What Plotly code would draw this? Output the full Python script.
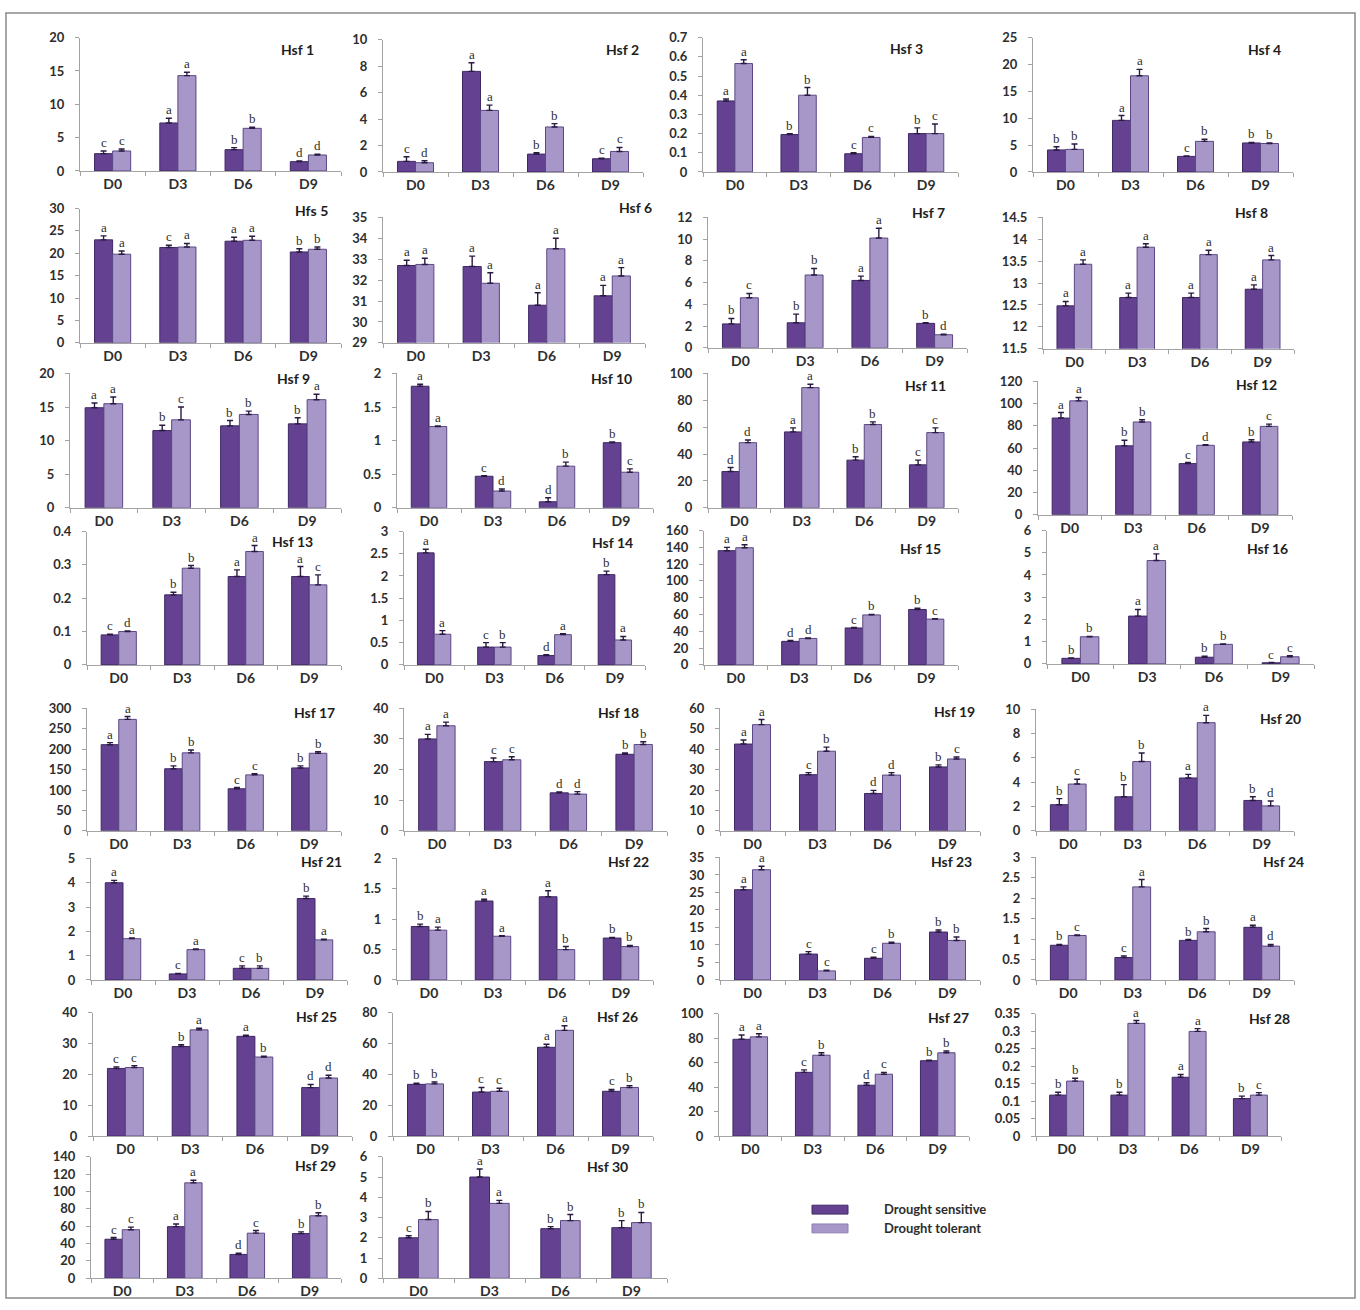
import plotly.graph_objects as go

W, H = 1360, 1310

# ---------------- data ----------------
DAYS = ["D0", "D3", "D6", "D9"]
GENES = ["Hsf 1", "Hsf 2", "Hsf 3", "Hsf 4", "Hfs 5", "Hsf 6", "Hsf 7", "Hsf 8",
         "Hsf 9", "Hsf 10", "Hsf 11", "Hsf 12", "Hsf 13", "Hsf 14", "Hsf 15", "Hsf 16",
         "Hsf 17", "Hsf 18", "Hsf 19", "Hsf 20", "Hsf 21", "Hsf 22", "Hsf 23", "Hsf 24",
         "Hsf 25", "Hsf 26", "Hsf 27", "Hsf 28", "Hsf 29", "Hsf 30"]

Y_MIN = [0, 0, 0, 0, 0, 29, 0, 11.5,
         0, 0, 0, 0, 0, 0, 0, 0,
         0, 0, 0, 0, 0, 0, 0, 0,
         0, 0, 0, 0, 0, 0]
Y_MAX = [20, 10, 0.7, 25, 30, 35, 12, 14.5,
         20, 2, 100, 120, 0.4, 3, 160, 6,
         300, 40, 60, 10, 5, 2, 35, 3,
         40, 80, 100, 0.35, 140, 6]
Y_STEP = [5, 2, 0.1, 5, 5, 1, 2, 0.5,
          5, 0.5, 20, 20, 0.1, 0.5, 20, 1,
          50, 10, 10, 2, 1, 0.5, 5, 0.5,
          10, 20, 20, 0.05, 20, 1]

SENS = [[2.6, 7.2, 3.2, 1.4], [0.8, 7.6, 1.35, 1.0], [0.37, 0.195, 0.095, 0.20], [4.1, 9.6, 2.9, 5.4],
        [23.0, 21.3, 22.7, 20.3], [32.7, 32.65, 30.8, 31.25], [2.2, 2.3, 6.2, 2.25], [12.48, 12.67, 12.67, 12.86],
        [14.9, 11.5, 12.2, 12.5], [1.81, 0.47, 0.09, 0.97], [27, 56.5, 35.5, 32], [87, 62, 46, 65.5],
        [0.09, 0.21, 0.265, 0.265], [2.52, 0.40, 0.21, 2.03], [136, 28, 44, 66], [0.25, 2.15, 0.3, 0.05],
        [211, 152, 103, 154], [30, 22.6, 12.4, 25], [42.5, 27.5, 18.3, 31.3], [2.15, 2.8, 4.35, 2.5],
        [4.0, 0.25, 0.48, 3.35], [0.88, 1.3, 1.37, 0.69], [25.8, 7.4, 6.2, 13.7], [0.85, 0.55, 0.97, 1.29],
        [21.9, 29, 32.3, 15.7], [33.5, 28.5, 57.5, 29], [79, 52, 41.5, 61.5], [0.117, 0.117, 0.168, 0.107],
        [45, 59.5, 27.5, 51.5], [2.0, 5.0, 2.45, 2.5]]
SENS_ERR = [[0.4, 0.7, 0.3, 0.1], [0.35, 0.65, 0.1, 0.05], [0.01, 0.005, 0.005, 0.03], [0.6, 0.9, 0.1, 0.1],
            [0.9, 0.5, 0.9, 0.7], [0.25, 0.5, 0.6, 0.5], [0.5, 0.8, 0.4, 0.05], [0.1, 0.1, 0.1, 0.1],
            [0.7, 0.8, 0.8, 0.9], [0.03, 0.01, 0.06, 0.01], [3, 3, 2.5, 3.5], [5, 5, 1, 2],
            [0.002, 0.008, 0.02, 0.03], [0.08, 0.1, 0.02, 0.08], [4, 1, 0.5, 1.5], [0.02, 0.3, 0.05, 0.01],
            [5, 7, 3, 5], [1.5, 1.2, 0.3, 0.4], [2, 1, 1.5, 1], [0.5, 1.0, 0.3, 0.3],
            [0.1, 0.02, 0.1, 0.1], [0.04, 0.03, 0.1, 0.01], [0.8, 0.7, 0.3, 0.6], [0.02, 0.04, 0.02, 0.05],
            [0.5, 0.6, 0.4, 1.0], [0.8, 3, 2, 1.2], [3.5, 2, 2, 0.5], [0.008, 0.008, 0.008, 0.007],
            [2, 3, 1.5, 2], [0.1, 0.4, 0.1, 0.35]]
SENS_LET = [list("cabd"), list("cabc"), list("abcb"), list("bacb"),
            list("acab"), list("aaaa"), list("bbab"), list("aaaa"),
            list("abbb"), list("acdb"), list("dabc"), list("abcb"),
            list("cbaa"), list("acdb"), list("adcb"), list("babc"),
            list("abcb"), list("acdb"), list("acdb"), list("bbab"),
            list("accb"), list("baab"), list("accb"), list("bcba"),
            list("cbad"), list("bcac"), list("acdb"), list("bbab"),
            list("cadb"), list("cabb")]

TOL = [[3.0, 14.3, 6.4, 2.4], [0.7, 4.65, 3.4, 1.55], [0.565, 0.40, 0.18, 0.20], [4.2, 17.9, 5.7, 5.3],
       [19.8, 21.4, 22.9, 20.9], [32.75, 31.85, 33.5, 32.2], [4.6, 6.7, 10.1, 1.2], [13.43, 13.82, 13.65, 13.53],
       [15.5, 13.1, 13.9, 16.1], [1.21, 0.25, 0.62, 0.53], [48.5, 89.5, 62, 56], [102.5, 83.5, 62.5, 79.5],
       [0.10, 0.29, 0.34, 0.24], [0.69, 0.40, 0.68, 0.56], [139.5, 31.5, 59.5, 54.5], [1.22, 4.65, 0.88, 0.32],
       [273, 191, 137, 190], [34.3, 23.2, 12.0, 28.2], [52, 39, 27.3, 35.2], [3.85, 5.7, 8.9, 2.05],
       [1.7, 1.25, 0.48, 1.65], [0.82, 0.72, 0.5, 0.55], [31.5, 2.6, 10.5, 11.3], [1.09, 2.28, 1.18, 0.83],
       [22.2, 34.4, 25.6, 18.8], [33.8, 29, 68.5, 31.5], [81, 66, 50.5, 68], [0.157, 0.322, 0.299, 0.117],
       [56, 110, 52, 72], [2.9, 3.7, 2.85, 2.75]]
TOL_ERR = [[0.3, 0.5, 0.15, 0.1], [0.15, 0.4, 0.25, 0.3], [0.02, 0.04, 0.005, 0.05], [1.0, 1.2, 0.4, 0.1],
           [0.7, 0.8, 0.9, 0.5], [0.3, 0.5, 0.5, 0.4], [0.4, 0.6, 0.9, 0.05], [0.1, 0.08, 0.1, 0.1],
           [1.0, 1.9, 0.5, 0.8], [0.01, 0.03, 0.06, 0.05], [2, 2.5, 2, 3.5], [3, 2, 0.5, 2],
           [0.002, 0.008, 0.018, 0.03], [0.08, 0.1, 0.02, 0.08], [3.5, 0.5, 0.5, 0.5], [0.02, 0.3, 0.02, 0.05],
           [7, 7, 3, 4], [1.2, 1.0, 0.8, 0.9], [2.5, 2, 1.2, 1], [0.4, 0.7, 0.6, 0.4],
           [0.03, 0.03, 0.1, 0.03], [0.05, 0.01, 0.05, 0.02], [1.0, 0.2, 0.3, 1.0], [0.01, 0.18, 0.08, 0.04],
           [0.6, 0.5, 0.3, 0.9], [1.2, 2, 3, 1.2], [2.5, 2, 1.5, 1.5], [0.008, 0.008, 0.008, 0.007],
           [3, 3, 3, 3.5], [0.4, 0.15, 0.3, 0.5]]
TOL_LET = [list("cabd"), list("dabc"), list("abcc"), list("babb"),
           list("aaab"), list("aaaa"), list("cbad"), list("aaaa"),
           list("acba"), list("adbc"), list("dabc"), list("abdc"),
           list("dbac"), list("abaa"), list("adbc"), list("babc"),
           list("abcb"), list("acdb"), list("abdc"), list("cbad"),
           list("aaba"), list("aabb"), list("acbb"), list("cabd"),
           list("cabd"), list("bcab"), list("abcb"), list("baac"),
           list("cacb"), list("babb")]

SERIES_NAMES = ["Drought sensitive", "Drought tolerant"]

# ---------------- layout (pixel boxes of each panel) ----------------
# (x_left, x_right, y_top, y_bottom, title_cx, title_cy)
PANELS = [
    (80, 341, 30, 165, 297, 42), (383, 643, 32, 166, 622, 42),
    (703, 958, 30, 166, 906, 41), (1033, 1293, 30, 166, 1264, 42),
    (80, 341, 203, 339, 311, 205), (383, 645, 212, 339, 635, 202),
    (708, 967, 212, 344, 928, 207), (1043, 1294, 212, 345, 1251, 207),
    (70, 341, 370, 506, 293, 375), (397, 653, 370, 506, 611, 375),
    (708, 958, 370, 506, 925, 382), (1038, 1292, 378, 513, 1256, 381),
    (87, 341, 530, 665, 292, 540), (404, 645, 530, 665, 612, 541),
    (704, 958, 529, 665, 920, 547), (1047, 1314, 529, 664, 1267, 547),
    (87, 341, 709, 833, 314, 713), (404, 667, 709, 833, 618, 713),
    (720, 980, 709, 833, 955, 712), (1036, 1294, 710, 833, 1280, 719),
    (91, 347, 861, 984, 321, 864), (397, 653, 861, 984, 628, 864),
    (720, 980, 860, 984, 952, 864), (1036, 1294, 860, 984, 1283, 864),
    (93, 352, 1017, 1142, 316, 1021), (393, 653, 1017, 1142, 617, 1021),
    (719, 969, 1018, 1142, 948, 1022), (1036, 1281, 1018, 1142, 1269, 1023),
    (91, 341, 1163, 1286, 315, 1172), (383, 667, 1163, 1286, 607, 1173),
]

SENS_COLOR = "#644291"
TOL_COLOR = "#a797c8"
EDGE = "#3e2865"
ERR_COLOR = "#2a1a42"
AXIS_COLOR = "#a3a3a3"
TEXT_COLOR = "#2e2e2e"
BAR_W = 0.277
OFF = BAR_W / 2

fig = go.Figure()
layout = {}
annotations = []

for k in range(30):
    n = k + 1
    xa = "x" if n == 1 else f"x{n}"
    ya = "y" if n == 1 else f"y{n}"
    xl, xr, yt, yb, tx, ty = PANELS[k]

    xs_s = [i - OFF for i in range(4)]
    xs_t = [i + OFF for i in range(4)]

    fig.add_trace(go.Bar(
        x=xs_s, y=SENS[k], width=BAR_W, xaxis=xa, yaxis=ya,
        name=SERIES_NAMES[0], showlegend=False, hoverinfo="skip",
        marker=dict(color=SENS_COLOR, line=dict(color=EDGE, width=1)),
        error_y=dict(type="data", symmetric=False, array=SENS_ERR[k],
                     arrayminus=[0] * 4, color=ERR_COLOR, thickness=1.4, width=3),
    ))
    fig.add_trace(go.Bar(
        x=xs_t, y=TOL[k], width=BAR_W, xaxis=xa, yaxis=ya,
        name=SERIES_NAMES[1], showlegend=False, hoverinfo="skip",
        marker=dict(color=TOL_COLOR, line=dict(color="#5b4785", width=1)),
        error_y=dict(type="data", symmetric=False, array=TOL_ERR[k],
                     arrayminus=[0] * 4, color=ERR_COLOR, thickness=1.4, width=3),
    ))

    # letters above error bars
    for i in range(4):
        annotations.append(dict(x=xs_s[i], y=SENS[k][i] + SENS_ERR[k][i], xref=xa, yref=ya,
                                text=SENS_LET[k][i], showarrow=False, yanchor="bottom",
                                yshift=-1, font=dict(family="Liberation Serif", size=13, color=TEXT_COLOR)))
        annotations.append(dict(x=xs_t[i], y=TOL[k][i] + TOL_ERR[k][i], xref=xa, yref=ya,
                                text=TOL_LET[k][i], showarrow=False, yanchor="bottom",
                                yshift=-1, font=dict(family="Liberation Serif", size=13, color=TEXT_COLOR)))

    # title
    annotations.append(dict(x=tx / W, y=1 - ty / H, xref="paper", yref="paper",
                            text=f"<b>{GENES[k]}</b>", showarrow=False,
                            xanchor="center", yanchor="middle",
                            font=dict(family="Lato", size=14, color="#1e1e1e")))

    nt = int(round((Y_MAX[k] - Y_MIN[k]) / Y_STEP[k]))
    yvals = [round(Y_MIN[k] + j * Y_STEP[k], 6) for j in range(nt + 1)]
    ytext = [f"{v:g}" for v in yvals]

    layout["xaxis" if n == 1 else f"xaxis{n}"] = dict(
        domain=[xl / W, xr / W], anchor=ya, range=[-0.5, 3.5],
        tickmode="array", tickvals=[0, 1, 2, 3], ticktext=DAYS,
        ticks="", showline=True, linecolor=AXIS_COLOR, linewidth=1,
        showgrid=False, zeroline=False, fixedrange=True,
        ticklabelstandoff=0,
        tickfont=dict(family="Lato", size=14, color=TEXT_COLOR, weight="bold"),
        minor=dict(tickmode="linear", tick0=-0.5, dtick=1, ticks="outside",
                   ticklen=4, tickcolor=AXIS_COLOR, tickwidth=1, showgrid=False),
    )
    layout["yaxis" if n == 1 else f"yaxis{n}"] = dict(
        domain=[1 - yb / H, 1 - yt / H], anchor=xa, range=[Y_MIN[k], Y_MAX[k]],
        tickmode="array", tickvals=yvals, ticktext=ytext,
        ticks="outside", ticklen=4, tickcolor=AXIS_COLOR, tickwidth=1,
        showline=True, linecolor=AXIS_COLOR, linewidth=1,
        showgrid=False, zeroline=False, fixedrange=True,
        ticklabelstandoff=8,
        tickfont=dict(family="Lato", size=13, color=TEXT_COLOR, weight="bold"),
    )

# legend (drawn manually)
shapes = [
    dict(type="rect", xref="paper", yref="paper", x0=6 / W, x1=1355 / W, y0=1 - 1306 / H, y1=1 - 5 / H,
         line=dict(color="#8a8a8a", width=1.5), fillcolor="rgba(0,0,0,0)", layer="below"),
    dict(type="rect", xref="paper", yref="paper", x0=812 / W, x1=848 / W, y0=1 - 1221 / H, y1=1 - 1212 / H,
         line=dict(color=EDGE, width=1), fillcolor=SENS_COLOR),
    dict(type="rect", xref="paper", yref="paper", x0=812 / W, x1=848 / W, y0=1 - 1240 / H, y1=1 - 1231 / H,
         line=dict(color="#8d7cb5", width=1), fillcolor=TOL_COLOR),
]
annotations.append(dict(x=882 / W, y=1 - 1216 / H, xref="paper", yref="paper", text=f"<b>{SERIES_NAMES[0]}</b>",
                        showarrow=False, xanchor="left", yanchor="middle",
                        font=dict(family="Lato", size=13, color=TEXT_COLOR)))
annotations.append(dict(x=882 / W, y=1 - 1235 / H, xref="paper", yref="paper", text=f"<b>{SERIES_NAMES[1]}</b>",
                        showarrow=False, xanchor="left", yanchor="middle",
                        font=dict(family="Lato", size=13, color=TEXT_COLOR)))

fig.update_layout(
    width=W, height=H, margin=dict(l=0, r=0, t=0, b=0),
    paper_bgcolor="white", plot_bgcolor="white",
    barmode="overlay", showlegend=False,
    font=dict(family="Lato", color=TEXT_COLOR),
    annotations=annotations, shapes=shapes, **layout,
)

fig.write_html("out.html", config={"displayModeBar": False},
               post_script="document.body.style.margin='0';")
